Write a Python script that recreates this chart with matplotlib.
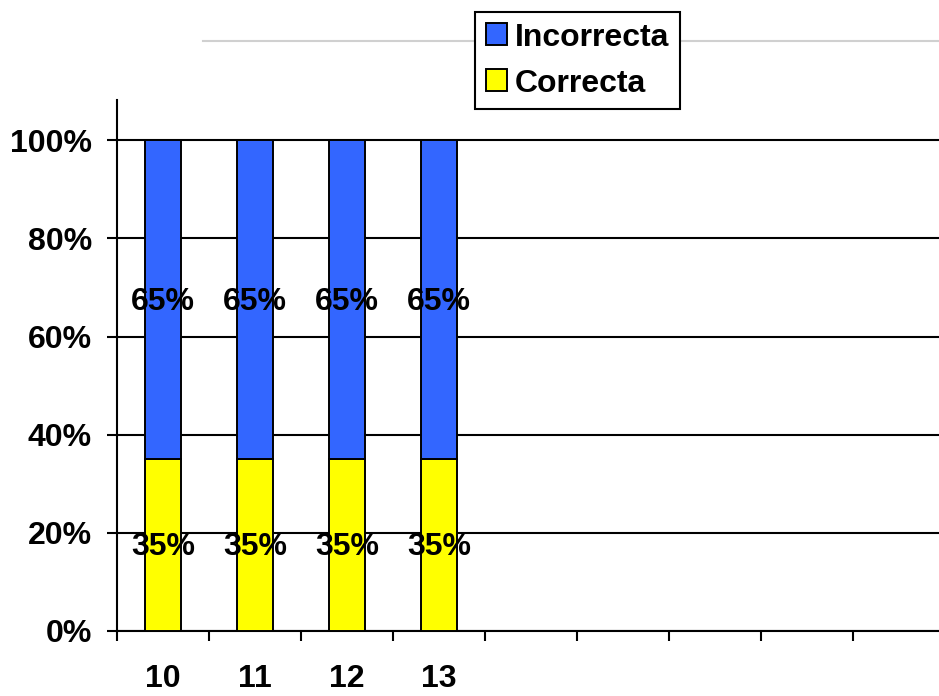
import matplotlib.pyplot as plt
from matplotlib.lines import Line2D

# survey answers per question, as percentages
categories = ['10', '11', '12', '13']
correcta = [35, 35, 35, 35]
incorrecta = [65, 65, 65, 65]
n_slots = 9                                     # axis keeps room for empty questions

plt.rcParams['font.family'] = ['Liberation Sans', 'DejaVu Sans']
plt.rcParams['font.weight'] = 'bold'
fs = 23

fig = plt.figure(figsize=(9.39, 6.96), dpi=100)
ax = fig.add_axes([117/939, 1 - 631/696, 1 - 117/939, (631 - 100)/696])

x = list(range(len(categories)))
b1 = ax.bar(x, correcta, width=0.4, color='#FFFF00', edgecolor='black', linewidth=1.4, zorder=3, label='Correcta')
b2 = ax.bar(x, incorrecta, width=0.4, bottom=correcta, color='#3366FF', edgecolor='black',
            linewidth=1.4, zorder=3, label='Incorrecta')

# percentage labels in the middle of each segment
for i in x:
    ax.text(i, correcta[i] / 2 - 0.4, f'{correcta[i]}%', ha='center', va='center', fontsize=fs,
            fontweight='bold', zorder=4)
    ax.text(i, correcta[i] + incorrecta[i] / 2 - 0.4, f'{incorrecta[i]}%', ha='center', va='center',
            fontsize=fs, fontweight='bold', zorder=4)

ax.set_ylim(0, 108.2)
ax.set_xlim(-0.5, -0.5 + 822 / 92)
ax.set_yticks([0, 20, 40, 60, 80, 100])
ax.set_yticklabels([f'{v}%' for v in [0, 20, 40, 60, 80, 100]], fontsize=fs, fontweight='bold')
ax.yaxis.grid(True, color='black', linewidth=1.5)
ax.set_axisbelow(True)

# category boundaries get the tick marks, the centres get the labels
ax.set_xticks([i - 0.5 for i in range(n_slots)])
ax.set_xticklabels([])
ax.set_xticks(x, minor=True)
ax.set_xticklabels(categories, minor=True, fontsize=fs, fontweight='bold')
ax.tick_params(axis='x', which='major', length=7, width=1.5, direction='out')
ax.tick_params(axis='x', which='minor', length=0, pad=24)
ax.tick_params(axis='y', length=7, width=1.5, direction='out', pad=11)

for s in ['top', 'right']:
    ax.spines[s].set_visible(False)
for s in ['left', 'bottom']:
    ax.spines[s].set_linewidth(1.5)

# faint line behind the legend
fig.add_artist(Line2D([203/939, 1], [1 - 41/696, 1 - 41/696], color='#d0d0d0', linewidth=1.5))

leg = fig.legend(handles=[b2, b1], loc='upper left', bbox_to_anchor=(475/939, 1 - 12/696),
                 borderaxespad=0, prop={'weight': 'bold', 'size': fs}, handlelength=0.68,
                 handleheight=0.68, handletextpad=0.25, borderpad=0.33, labelspacing=0.5,
                 fancybox=False, framealpha=1, edgecolor='black')
leg.get_frame().set_linewidth(1.5)

fig.savefig('out.png', dpi=100)
